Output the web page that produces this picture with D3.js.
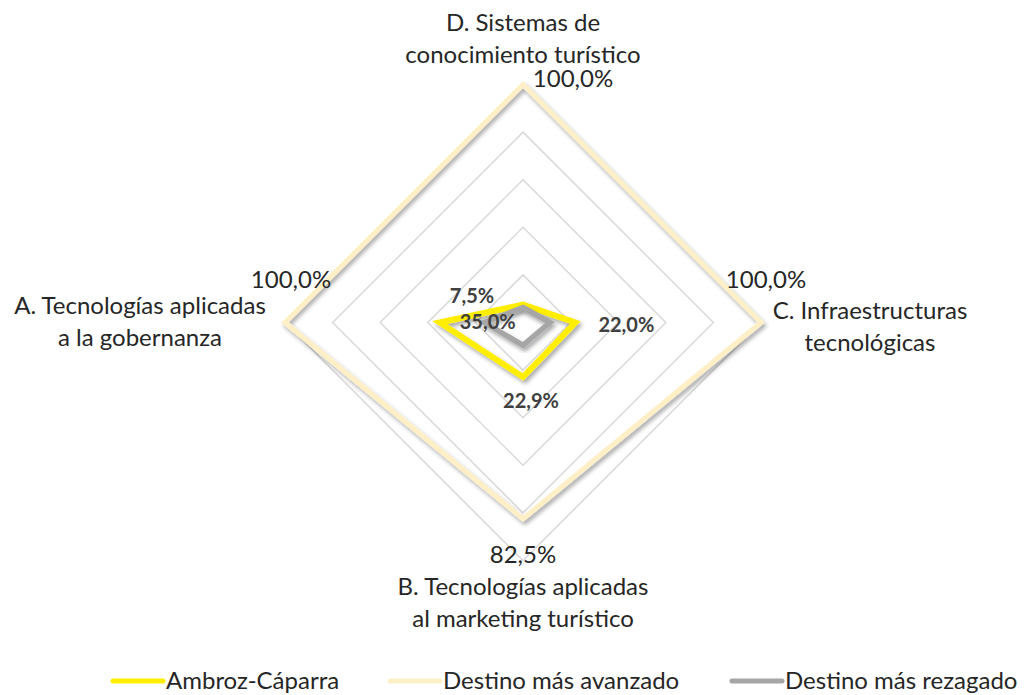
<!DOCTYPE html>
<html>
<head>
<meta charset="utf-8">
<script src="https://cdn.jsdelivr.net/npm/d3@7"></script>
<style>
  body { margin: 0; background: #fff; }
  text { font-family: Lato, "Open Sans", sans-serif; }
</style>
</head>
<body>
<script>
// categories clockwise from the top
const categories = [
  ["D. Sistemas de", "conocimiento turístico"],
  ["C. Infraestructuras", "tecnológicas"],
  ["B. Tecnologías aplicadas", "al marketing turístico"],
  ["A. Tecnologías aplicadas", "a la gobernanza"]
];
const seriesNames = ["Ambroz-Cáparra", "Destino más avanzado", "Destino más rezagado"];
const ambroz = [7.5, 22.0, 22.9, 35.0];
const avanzado = [100, 100, 82.5, 100];
const rezagado = [6.3, 11.3, 9.6, 16.3];
const gridTicks = [20, 40, 60, 80, 100];

const W = 1026, H = 695;
const cx = 523, cy = 322.5, R = 238;
const colors = ["#ffee00", "#ffefc6", "#a6a6a6"];
const widths = [6, 5, 5.5];
const fmt = v => d3.format(".1f")(v).replace(".", ",") + "%";

const svg = d3.select("body").append("svg")
  .attr("width", W).attr("height", H);

const defs = svg.append("defs");
const f = defs.append("filter").attr("id", "shadow")
  .attr("x", "-10%").attr("y", "-10%").attr("width", "130%").attr("height", "130%");
f.append("feDropShadow").attr("dx", 2).attr("dy", 3).attr("stdDeviation", 2)
  .attr("flood-color", "#000").attr("flood-opacity", 0.35);

const r = d3.scaleLinear().domain([0, 100]).range([0, R]);
const angle = i => i * Math.PI / 2;
const radar = d3.lineRadial()
  .angle((d, i) => angle(i))
  .radius(d => r(d))
  .curve(d3.curveLinearClosed);
const pt = (v, i) => [cx + r(v) * Math.sin(angle(i)), cy - r(v) * Math.cos(angle(i))];

const chart = svg.append("g").attr("transform", `translate(${cx},${cy})`);

// grid rings
chart.selectAll(".ring")
  .data(gridTicks)
  .enter().append("path")
  .attr("d", t => radar(categories.map(() => t)))
  .attr("fill", "none")
  .attr("stroke", "#d9d9d9")
  .attr("stroke-width", 1.5);

// series
const series = [ambroz, avanzado, rezagado];
chart.selectAll(".serie")
  .data(series)
  .enter().append("path")
  .attr("d", d => radar(d))
  .attr("fill", "none")
  .attr("stroke", (d, i) => colors[i])
  .attr("stroke-width", (d, i) => widths[i])
  .attr("stroke-linejoin", "miter")
  .attr("filter", "url(#shadow)");

// data labels (offsets from the vertex)
const ambrozOff = [[-51, -2], [51, 9], [8, 31], [48, 6]];
const avanzadoOff = [[50, 2], [5, -35], [0, 44], [6, -35]];

svg.selectAll(".lblA")
  .data(ambroz)
  .enter().append("text")
  .attr("x", (d, i) => pt(d, i)[0] + ambrozOff[i][0])
  .attr("y", (d, i) => pt(d, i)[1] + ambrozOff[i][1])
  .attr("text-anchor", "middle")
  .attr("font-size", 20)
  .attr("font-weight", "bold")
  .attr("fill", "#404040")
  .text(fmt);

svg.selectAll(".lblB")
  .data(avanzado)
  .enter().append("text")
  .attr("x", (d, i) => pt(d, i)[0] + avanzadoOff[i][0])
  .attr("y", (d, i) => pt(d, i)[1] + avanzadoOff[i][1])
  .attr("text-anchor", "middle")
  .attr("font-size", 24)
  .attr("fill", "#262626")
  .text(fmt);

// category labels
const catPos = [[0, -R - 54], [347, -3.5], [0, R + 34], [-383, -8.5]];
categories.forEach((lines, i) => {
  const t = svg.append("text")
    .attr("text-anchor", "middle")
    .attr("font-size", 24)
    .attr("fill", "#262626");
  lines.forEach((s, k) => {
    t.append("tspan")
      .attr("x", cx + catPos[i][0])
      .attr("y", cy + catPos[i][1] + k * 32)
      .text(s);
  });
});

// legend
const legX = [113, 390, 732];
const leg = svg.selectAll(".leg")
  .data(seriesNames)
  .enter().append("g")
  .attr("transform", (d, i) => `translate(${legX[i]},681)`);
leg.append("line")
  .attr("x1", 0).attr("x2", 50)
  .attr("stroke", (d, i) => colors[i])
  .attr("stroke-width", 5)
  .attr("stroke-linecap", "round");
leg.append("text")
  .attr("x", 53).attr("y", 8)
  .attr("font-size", 24)
  .attr("fill", "#262626")
  .text(d => d);
</script>
</body>
</html>
